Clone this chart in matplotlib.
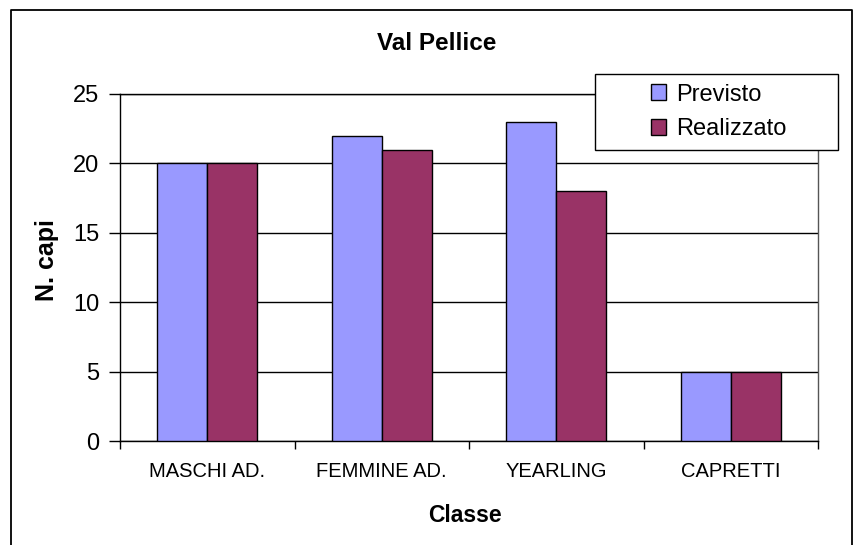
import numpy as np
import matplotlib
matplotlib.use("Agg")
import matplotlib.pyplot as plt
from matplotlib.patches import Rectangle
from matplotlib.lines import Line2D

plt.rcParams['font.family'] = ['Liberation Sans', 'DejaVu Sans']

categories = ["MASCHI AD.", "FEMMINE AD.", "YEARLING", "CAPRETTI"]
previsto = [20, 22, 23, 5]
realizzato = [20, 21, 18, 5]
series_names = ["Previsto", "Realizzato"]
colors = ["#9999FF", "#993366"]

W, H = 855, 545
fig = plt.figure(figsize=(W / 100, H / 100), dpi=100)
ax = fig.add_axes([120 / W, 1 - 441 / H, (818 - 120) / W, (441 - 94) / H])

x = np.arange(len(categories))
w = 1 / 3.5
b1 = ax.bar(x - w / 2, previsto, w, color=colors[0], edgecolor="black", linewidth=1, zorder=3)
b2 = ax.bar(x + w / 2, realizzato, w, color=colors[1], edgecolor="black", linewidth=1, zorder=3)

ax.set_xlim(-0.5, len(categories) - 0.5)
ax.set_ylim(0, 25)
ax.set_yticks(range(0, 26, 5))
ax.yaxis.grid(True, color="black", linewidth=1, zorder=0)
ax.tick_params(axis="y", labelsize=17, length=8, direction="out", width=1, pad=7)

ax.set_xticks(x)
ax.set_xticklabels(categories, fontsize=14.5)
ax.tick_params(axis="x", which="major", length=0, pad=15)
ax.set_xticks(np.arange(-0.5, len(categories), 1), minor=True)
ax.tick_params(axis="x", which="minor", length=6, width=1, direction="out")

for s in ax.spines.values():
    s.set_color("black")
    s.set_linewidth(1)
ax.spines["right"].set_color("#555555")

fig.text(437 / W, 1 - 44 / H, "Val Pellice", ha="center", va="center",
         fontsize=17.5, fontweight="bold")
fig.text(465 / W, 1 - 515 / H, "Classe", ha="center", va="center",
         fontsize=16.5, fontweight="bold")
fig.text(47 / W, 1 - 260 / H, "N. capi", ha="center", va="center",
         fontsize=18, fontweight="bold", rotation=90)

# legend box
fig.patches.append(Rectangle((595 / W, 1 - 150 / H), (838 - 595) / W, (150 - 74) / H,
                             transform=fig.transFigure, facecolor="white",
                             edgecolor="black", linewidth=1, zorder=5))
leg = fig.legend([b1, b2], series_names, loc="center",
                 bbox_to_anchor=(719 / W, 1 - 112 / H), frameon=False,
                 fontsize=17, handlelength=0.64, handleheight=0.64,
                 handletextpad=0.42, labelspacing=0.55, borderpad=0)
leg.set_zorder(6)

# chart border (cropped at the bottom)
bx = [11 / W, 11 / W, 852 / W, 852 / W]
by = [0, 1 - 10 / H, 1 - 10 / H, 0]
fig.lines.append(Line2D(bx, by, transform=fig.transFigure, color="black", linewidth=1.3))

fig.savefig("out.png", dpi=100)
